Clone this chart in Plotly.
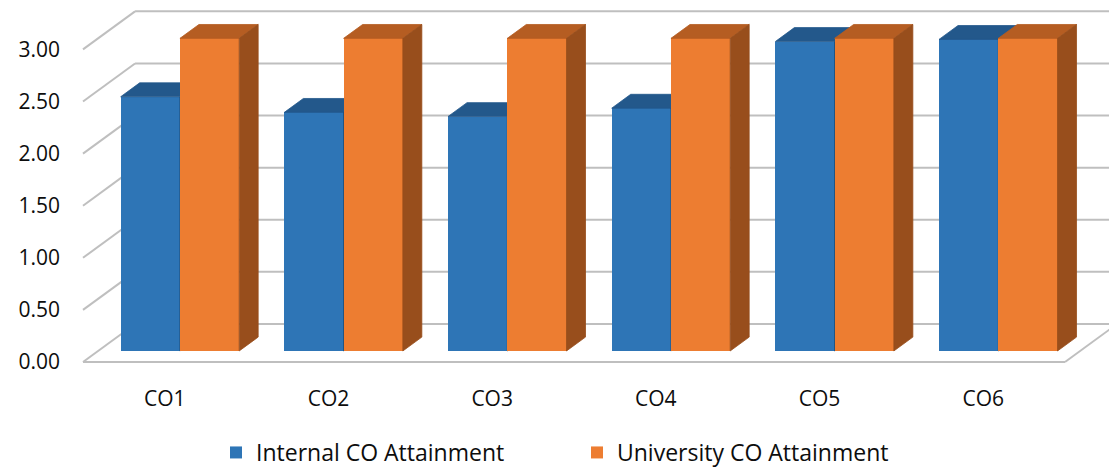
import plotly.graph_objects as go

# ---- data -------------------------------------------------------------
categories = ["CO1", "CO2", "CO3", "CO4", "CO5", "CO6"]
internal = [2.44, 2.29, 2.25, 2.33, 2.97, 2.99]
university = [3.00, 3.00, 3.00, 3.00, 3.00, 3.00]
y_ticks = [0.0, 0.5, 1.0, 1.5, 2.0, 2.5, 3.0]
y_tick_labels = ["0.00", "0.50", "1.00", "1.50", "2.00", "2.50", "3.00"]
series_names = ["Internal CO Attainment", "University CO Attainment"]

# ---- styling ----------------------------------------------------------
BLUE = ("#2E75B6", "#23588B", "#1F4E79")      # front, top, side
ORANGE = ("#ED7D31", "#B55D22", "#984E1C")
GRID = "#BFBFBF"
FONT = "Open Sans"
TEXT = "#0D0D0D"

# pseudo-3D geometry (axis units)
WALL_DX, WALL_DY = 0.318, 0.365   # floor depth projected on x / y
BAR_Z0, BAR_Z1 = 0.29, 0.655      # bar front / back as fraction of depth
BAR_W = 0.362                     # width of one bar in category units

# plot-area pixel layout
W, H = 1109, 474
M_L, M_B = 61, 90
PX_PER_CAT, PX_PER_VAL = 163.67, 104.2
FLOOR_LEFT_PX, FLOOR_FRONT_PX = 83, 362

n = len(categories)
centers = [i + 0.5 for i in range(n)]

x_lo = (M_L - FLOOR_LEFT_PX) / PX_PER_CAT
x_hi = x_lo + (W - M_L) / PX_PER_CAT
y_lo = (FLOOR_FRONT_PX - (H - M_B)) / PX_PER_VAL
y_hi = y_lo + (H - M_B) / PX_PER_VAL


def box_faces(values, offset):
    """Top and right-side parallelograms of each bar."""
    bx, by = BAR_Z0 * WALL_DX, BAR_Z0 * WALL_DY
    ddx, ddy = (BAR_Z1 - BAR_Z0) * WALL_DX, (BAR_Z1 - BAR_Z0) * WALL_DY
    tx, ty, sx, sy = [], [], [], []
    for c, v in zip(centers, values):
        x0 = c + offset + bx
        x1 = x0 + BAR_W
        yb, yt = by, by + v
        tx += [x0, x1, x1 + ddx, x0 + ddx, x0, None]
        ty += [yt, yt, yt + ddy, yt + ddy, yt, None]
        sx += [x1, x1, x1 + ddx, x1 + ddx, x1, None]
        sy += [yb, yt, yt + ddy, yb + ddy, yb, None]
    return tx, ty, sx, sy


fig = go.Figure()

for values, name, cols, offset, ax in [
    (internal, series_names[0], BLUE, -BAR_W, ("x", "y")),
    (university, series_names[1], ORANGE, 0.0, ("x2", "y2")),
]:
    fig.add_trace(go.Bar(
        x=centers, y=values, base=BAR_Z0 * WALL_DY,
        width=BAR_W, offset=offset + BAR_Z0 * WALL_DX,
        name=name, marker=dict(color=cols[0], line=dict(width=0)),
        xaxis=ax[0], yaxis=ax[1],
    ))
    tx, ty, sx, sy = box_faces(values, offset)
    for fx, fy, col in [(tx, ty, cols[1]), (sx, sy, cols[2])]:
        fig.add_trace(go.Scatter(
            x=fx, y=fy, mode="lines", fill="toself", fillcolor=col,
            line=dict(color=col, width=0.8), hoverinfo="skip",
            showlegend=False, xaxis=ax[0], yaxis=ax[1],
        ))

# walls and floor
shapes = []
line = dict(color=GRID, width=2)
for v in y_ticks:
    # side-wall gridline
    shapes.append(dict(type="line", xref="x", yref="y", x0=0, y0=v,
                       x1=WALL_DX, y1=v + WALL_DY, line=line, layer="below"))
    # back-wall gridline
    shapes.append(dict(type="line", xref="x", yref="y", x0=WALL_DX, y0=v + WALL_DY,
                       x1=n + WALL_DX, y1=v + WALL_DY, line=line, layer="below"))
# floor front and right edges
shapes.append(dict(type="line", xref="x", yref="y", x0=0, y0=0, x1=n, y1=0,
                   line=line, layer="below"))
shapes.append(dict(type="line", xref="x", yref="y", x0=n, y0=0,
                   x1=n + WALL_DX, y1=WALL_DY, line=line, layer="below"))

fig.update_layout(
    width=W, height=H, autosize=False,
    margin=dict(l=M_L, r=0, t=0, b=M_B, pad=0, autoexpand=False),
    paper_bgcolor="white", plot_bgcolor="white",
    barmode="overlay", bargap=0,
    font=dict(family=FONT, size=22, color=TEXT),
    shapes=shapes,
    xaxis=dict(range=[x_lo, x_hi], tickvals=centers, ticktext=categories,
               showgrid=False, zeroline=False, showline=False, ticks="",
               tickfont=dict(size=21), fixedrange=True, automargin=False),
    yaxis=dict(range=[y_lo, y_hi], tickvals=y_ticks, ticktext=y_tick_labels,
               showgrid=False, zeroline=False, showline=False, ticks="",
               tickfont=dict(size=21), fixedrange=True, automargin=False),
    xaxis2=dict(range=[x_lo, x_hi], overlaying="x", visible=False),
    yaxis2=dict(range=[y_lo, y_hi], overlaying="y", visible=False),
    legend=dict(orientation="h", x=(216 - M_L) / (W - M_L), xanchor="left",
                yref="container", y=0.0, yanchor="bottom",
                font=dict(size=23), bgcolor="rgba(0,0,0,0)", entrywidth=316),
)

fig.write_html("out.html")
